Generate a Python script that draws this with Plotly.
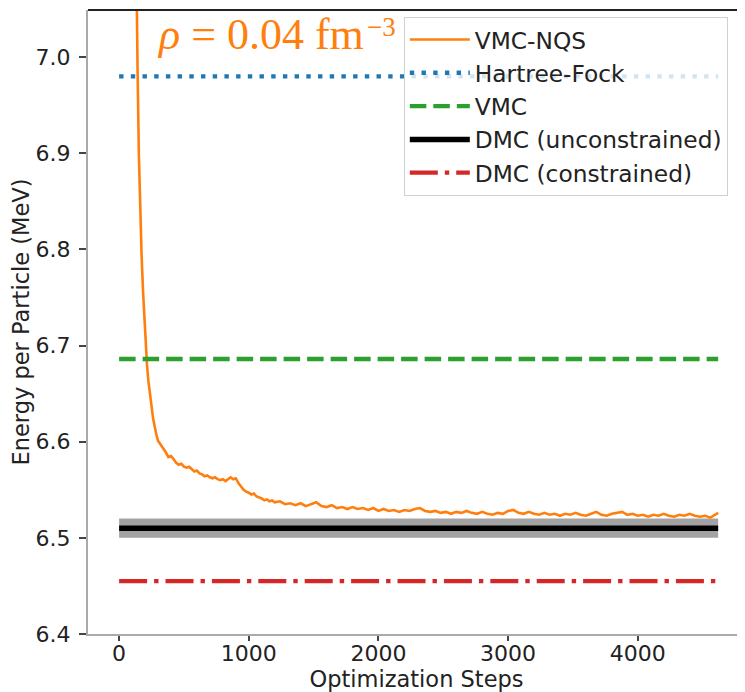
import plotly.graph_objects as go

# ---------------- data ----------------
steps = [0, 50, 100, 120, 135, 142, 152, 162, 173, 185, 195, 205, 215, 225, 237, 250, 262, 275, 288,
         300, 320, 340, 360, 380, 400, 420, 440, 460, 480, 500, 520, 540, 560, 580, 600, 620, 640,
         660, 680, 700, 720, 740, 760, 780, 800, 820, 840, 860, 880, 900, 920, 940, 960, 980, 1000,
         1020, 1040, 1060, 1080, 1100, 1120, 1140, 1160, 1180, 1200,
         1240, 1280, 1320, 1360, 1400, 1440, 1480, 1520, 1560, 1600, 1640, 1680, 1720, 1760, 1800,
         1840, 1880, 1920, 1960, 2000, 2040, 2080, 2120, 2160, 2200, 2240, 2280, 2320, 2360, 2400,
         2440, 2480, 2520, 2560, 2600, 2640, 2680, 2720, 2760, 2800, 2840, 2880, 2920, 2960, 3000,
         3040, 3080, 3120, 3160, 3200, 3240, 3280, 3320, 3360, 3400, 3440, 3480, 3520, 3560, 3600,
         3640, 3680, 3720, 3760, 3800, 3840, 3880, 3920, 3960, 4000, 4040, 4080, 4120, 4160, 4200,
         4240, 4280, 4320, 4360, 4400, 4440, 4480, 4520, 4560, 4600, 4620]
energy_nqs = [14.0, 9.5, 7.6, 7.25, 7.04, 6.99, 6.90, 6.84, 6.795, 6.755, 6.725, 6.698, 6.680, 6.664,
              6.648, 6.637, 6.624, 6.614, 6.607,
              6.601, 6.597, 6.594, 6.589, 6.584, 6.585, 6.582, 6.578, 6.576, 6.577, 6.574, 6.573,
              6.574, 6.571, 6.569, 6.570, 6.567, 6.566, 6.564, 6.565, 6.563, 6.562, 6.563, 6.561,
              6.560, 6.561, 6.559, 6.561, 6.563, 6.561, 6.562, 6.557, 6.553, 6.550, 6.548, 6.547,
              6.545, 6.546, 6.543, 6.542, 6.541, 6.539, 6.540, 6.538, 6.539, 6.537,
              6.538, 6.535, 6.536, 6.534, 6.536, 6.533, 6.535, 6.537, 6.533, 6.532, 6.534, 6.531,
              6.532, 6.530, 6.532, 6.530, 6.531, 6.529, 6.531, 6.528, 6.530, 6.528, 6.529, 6.527,
              6.529, 6.528, 6.530, 6.531, 6.528, 6.527, 6.528, 6.526, 6.527, 6.525, 6.527, 6.526,
              6.528, 6.526, 6.525, 6.527, 6.525, 6.524, 6.526, 6.525, 6.528, 6.529, 6.526, 6.525,
              6.527, 6.525, 6.524, 6.526, 6.524, 6.525, 6.523, 6.525, 6.524, 6.526, 6.524, 6.523,
              6.525, 6.527, 6.524, 6.523, 6.525, 6.526, 6.527, 6.524, 6.525, 6.523, 6.524, 6.522,
              6.524, 6.523, 6.525, 6.523, 6.522, 6.524, 6.523, 6.525, 6.523, 6.522, 6.523, 6.521,
              6.524, 6.526]

ref_extent = [0, 4620]
hartree_fock = 6.98
vmc = 6.686
dmc_unconstrained = 6.51
dmc_unconstrained_err = 0.01
dmc_constrained = 6.455

series_names = ["VMC-NQS", "Hartree-Fock", "VMC", "DMC (unconstrained)", "DMC (constrained)"]
density_label = "<i>ρ</i> = 0.04 fm"
density_exponent = "−3"
x_title = "Optimization Steps"
y_title = "Energy per Particle (MeV)"
x_ticks = [0, 1000, 2000, 3000, 4000]
y_ticks = [6.4, 6.5, 6.6, 6.7, 6.8, 6.9, 7.0]

# ---------------- figure ----------------
FONT = "DejaVu Sans"
ORANGE = "#ff7f0e"
fig = go.Figure()

# uncertainty band for unconstrained DMC
fig.add_trace(go.Scatter(x=ref_extent, y=[dmc_unconstrained - dmc_unconstrained_err] * 2,
                         mode="lines", line=dict(width=0, color="rgba(0,0,0,0)"),
                         showlegend=False, hoverinfo="skip"))
fig.add_trace(go.Scatter(x=ref_extent, y=[dmc_unconstrained + dmc_unconstrained_err] * 2,
                         mode="lines", line=dict(width=0, color="rgba(0,0,0,0)"),
                         fill="tonexty", fillcolor="#a3a3a3",
                         showlegend=False, hoverinfo="skip"))

fig.add_trace(go.Scatter(x=steps, y=energy_nqs, mode="lines", name=series_names[0],
                         line=dict(color=ORANGE, width=2.6)))
fig.add_trace(go.Scatter(x=ref_extent, y=[hartree_fock] * 2, mode="lines", name=series_names[1],
                         line=dict(color="#1f77b4", width=4.4, dash="4.4px,7.3px")))
fig.add_trace(go.Scatter(x=ref_extent, y=[vmc] * 2, mode="lines", name=series_names[2],
                         line=dict(color="#2ca02c", width=4.4, dash="16.5px,7px")))
fig.add_trace(go.Scatter(x=ref_extent, y=[dmc_unconstrained] * 2, mode="lines", name=series_names[3],
                         line=dict(color="black", width=5.5)))
fig.add_trace(go.Scatter(x=ref_extent, y=[dmc_constrained] * 2, mode="lines", name=series_names[4],
                         line=dict(color="#d62728", width=4.4, dash="28px,7px,4.4px,7px")))

fig.update_layout(
    width=737, height=684,
    margin=dict(l=80, r=0, t=2, b=58, autoexpand=False),
    paper_bgcolor="white", plot_bgcolor="white",
    font=dict(family=FONT, size=22, color="#222"),
    showlegend=True,
    legend=dict(x=0.4807, y=0.989, xanchor="left", yanchor="top", traceorder="normal",
                bgcolor="rgba(255,255,255,0.8)", bordercolor="#d0d0d0", borderwidth=1,
                font=dict(family=FONT, size=23.3, color="#222"), itemwidth=60,
                tracegroupgap=0),
    xaxis=dict(range=[-240, 4827], tickvals=x_ticks, automargin=False,
               ticklabelstandoff=-6,
               showgrid=False, zeroline=False, showline=True, linecolor="#aaaaaa", linewidth=2,
               ticks="outside", ticklen=5, tickwidth=1.5, tickcolor="#444",
               title=dict(text=x_title, standoff=9, font=dict(size=22.5))),
    yaxis=dict(range=[6.4, 7.049], tickvals=y_ticks, tickformat=".1f", automargin=True,
               ticklabelstandoff=4,
               showgrid=False, zeroline=False, showline=True, linecolor="#aaaaaa", linewidth=2,
               ticks="outside", ticklen=7, tickwidth=1.5, tickcolor="#444",
               title=dict(text=y_title, standoff=4, font=dict(size=22.5))),
    shapes=[dict(type="line", xref="paper", yref="paper", x0=0, x1=1, y0=1, y1=1,
                 line=dict(color="#222", width=2))],
    annotations=[
        dict(text=density_label, xref="paper", yref="paper", x=0.1016, y=0.960,
             xanchor="left", yanchor="middle", showarrow=False,
             font=dict(family="Liberation Serif", size=44, color=ORANGE)),
        dict(text=density_exponent, xref="paper", yref="paper", x=0.4215, y=0.9727,
             xanchor="left", yanchor="middle", showarrow=False,
             font=dict(family="Liberation Serif", size=27, color=ORANGE)),
    ],
)

fig.write_html("out.html")
